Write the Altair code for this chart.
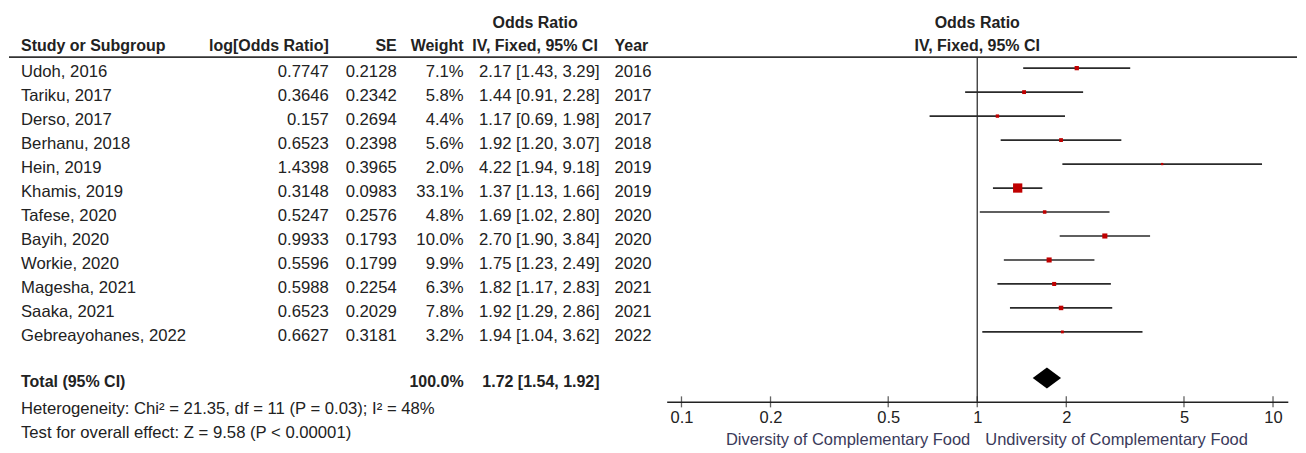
import altair as alt
import pandas as pd

# ---------------- data ----------------
studies = ["Udoh, 2016", "Tariku, 2017", "Derso, 2017", "Berhanu, 2018", "Hein, 2019",
           "Khamis, 2019", "Tafese, 2020", "Bayih, 2020", "Workie, 2020", "Magesha, 2021",
           "Saaka, 2021", "Gebreayohanes, 2022"]
log_or_txt = ["0.7747", "0.3646", "0.157", "0.6523", "1.4398", "0.3148", "0.5247",
              "0.9933", "0.5596", "0.5988", "0.6523", "0.6627"]
se_txt = ["0.2128", "0.2342", "0.2694", "0.2398", "0.3965", "0.0983", "0.2576",
          "0.1793", "0.1799", "0.2254", "0.2029", "0.3181"]
weights = [7.1, 5.8, 4.4, 5.6, 2.0, 33.1, 4.8, 10.0, 9.9, 6.3, 7.8, 3.2]
or_est = [2.17, 1.44, 1.17, 1.92, 4.22, 1.37, 1.69, 2.70, 1.75, 1.82, 1.92, 1.94]
ci_lo = [1.43, 0.91, 0.69, 1.20, 1.94, 1.13, 1.02, 1.90, 1.23, 1.17, 1.29, 1.04]
ci_hi = [3.29, 2.28, 1.98, 3.07, 9.18, 1.66, 2.80, 3.84, 2.49, 2.83, 2.86, 3.62]
years = ["2016", "2017", "2017", "2018", "2019", "2019", "2020", "2020", "2020",
         "2021", "2021", "2022"]

total_label = "Total (95% CI)"
total_weight = "100.0%"
total_or, total_lo, total_hi = 1.72, 1.54, 1.92
heterogeneity = "Heterogeneity: Chi\u00b2 = 21.35, df = 11 (P = 0.03); I\u00b2 = 48%"
overall = "Test for overall effect: Z = 9.58 (P < 0.00001)"

headers = ["Study or Subgroup", "log[Odds Ratio]", "SE", "Weight", "Odds Ratio",
           "IV, Fixed, 95% CI", "Year"]
plot_header = ["Odds Ratio", "IV, Fixed, 95% CI"]
tick_values = [0.1, 0.2, 0.5, 1, 2, 5, 10]
left_label = "Diversity of Complementary Food"
right_label = "Undiversity of Complementary Food"

# ---------------- layout ----------------
W, H = 1290, 394
ROW_TOP, ROW_AXIS = -2.5, 13.9167
H1_ROW, H2_ROW = -2.04, -1.1
LINE_ROW = -0.458
TOTAL_ROW = 12.92
FOOT_ROWS = [14.04, 15.04]
BOTTOM_LABEL_ROW = 15.33
DIAMOND_HALF = 0.44
COL_X = [13, 321, 389, 456, 527.5, 592, 607]
FONT = "Liberation Sans, Arial, sans-serif"
FS, FSB = 16.7, 16
TXT = "#222222"

yenc = alt.Y("row:Q", scale=alt.Scale(domain=[ROW_TOP, ROW_AXIS], reverse=True,
                                       nice=False, zero=False), axis=None)
xaxis = alt.Axis(values=tick_values, orient="bottom", title=None, grid=False,
                 ticks=False, domainColor="#222222", domainWidth=1.5,
                 labelFont=FONT, labelFontSize=16.5, labelColor=TXT,
                 labelPadding=8, format="~g")
xscale = alt.Scale(type="log", domain=[10 ** -1.05, 10 ** 1.05],
                   range=[659.2, 1280.8], nice=False)


def fx(field):
    return alt.X(field, scale=xscale, axis=xaxis)


# ---------------- forest part ----------------
studies_df = pd.DataFrame({"row": list(range(len(studies))), "est": or_est,
                           "lo": ci_lo, "hi": ci_hi, "w": weights})

vline = alt.Chart(pd.DataFrame({"x": [1.0], "row": [LINE_ROW], "row2": [ROW_AXIS]})).mark_rule(
    color="#333333", strokeWidth=1.3).encode(x=fx("x:Q"), y=yenc, y2="row2:Q")

ci_rules = alt.Chart(studies_df).mark_rule(color="#2a2a2a", strokeWidth=1.7).encode(
    x=fx("lo:Q"), x2="hi:Q", y=yenc)

squares = alt.Chart(studies_df).mark_square(color="#c00000", opacity=1, filled=True).encode(
    x=fx("est:Q"), y=yenc,
    size=alt.Size("w:Q", scale=alt.Scale(domain=[0, 33.1], range=[0, 86]), legend=None))

diamond_df = pd.DataFrame({
    "x": [total_lo, total_or, total_hi],
    "row": [TOTAL_ROW, TOTAL_ROW - DIAMOND_HALF, TOTAL_ROW],
    "row2": [TOTAL_ROW, TOTAL_ROW + DIAMOND_HALF, TOTAL_ROW]})
diamond = alt.Chart(diamond_df).mark_area(color="black", opacity=1).encode(
    x=fx("x:Q"), y=yenc, y2="row2:Q")

ticks = alt.Chart(pd.DataFrame({"x": tick_values, "row": [ROW_AXIS] * len(tick_values)})).mark_tick(
    orient="vertical", size=11, thickness=1.3, color="#222222").encode(x=fx("x:Q"), y=yenc)

ph_df = pd.DataFrame({"x": [1.0, 1.0], "row": [H1_ROW, H2_ROW], "text": plot_header})
plot_head = alt.Chart(ph_df).mark_text(font=FONT, fontSize=FSB, fontWeight="bold", color=TXT,
                                       align="center", baseline="alphabetic", dy=9).encode(
    x=fx("x:Q"), y=yenc, text="text:N")

bl_df = pd.DataFrame({"x": [1.0], "row": [BOTTOM_LABEL_ROW], "text": [left_label]})
br_df = pd.DataFrame({"x": [1.0], "row": [BOTTOM_LABEL_ROW], "text": [right_label]})
bottom_left = alt.Chart(bl_df).mark_text(font=FONT, fontSize=16.5, color="#3a3a5a", align="right",
                                         baseline="alphabetic", dy=9, dx=-7).encode(
    x=fx("x:Q"), y=yenc, text="text:N")
bottom_right = alt.Chart(br_df).mark_text(font=FONT, fontSize=16.5, color="#3a3a5a", align="left",
                                          baseline="alphabetic", dy=9, dx=8).encode(
    x=fx("x:Q"), y=yenc, text="text:N")

forest = alt.layer(vline, ci_rules, squares, diamond, ticks, plot_head, bottom_left, bottom_right)

# ---------------- table part ----------------
cells = []
for i in range(len(studies)):
    cells += [
        dict(row=i, col=0, text=studies[i], align="left", bold=False),
        dict(row=i, col=1, text=log_or_txt[i], align="right", bold=False),
        dict(row=i, col=2, text=se_txt[i], align="right", bold=False),
        dict(row=i, col=3, text=f"{weights[i]:.1f}%", align="right", bold=False),
        dict(row=i, col=5, text=f"{or_est[i]:.2f} [{ci_lo[i]:.2f}, {ci_hi[i]:.2f}]",
             align="right", bold=False),
        dict(row=i, col=6, text=years[i], align="left", bold=False),
    ]
cells += [
    dict(row=TOTAL_ROW, col=0, text=total_label, align="left", bold=True),
    dict(row=TOTAL_ROW, col=3, text=total_weight, align="right", bold=True),
    dict(row=TOTAL_ROW, col=5, text=f"{total_or:.2f} [{total_lo:.2f}, {total_hi:.2f}]",
         align="right", bold=True),
    dict(row=H2_ROW, col=0, text=headers[0], align="left", bold=True),
    dict(row=H2_ROW, col=1, text=headers[1], align="right", bold=True),
    dict(row=H2_ROW, col=2, text=headers[2], align="right", bold=True),
    dict(row=H2_ROW, col=3, text=headers[3], align="right", bold=True),
    dict(row=H1_ROW, col=4, text=headers[4], align="center", bold=True),
    dict(row=H2_ROW, col=4, text=headers[5], align="center", bold=True),
    dict(row=H2_ROW, col=6, text=headers[6], align="left", bold=True),
    dict(row=FOOT_ROWS[0], col=0, text=heterogeneity, align="left", bold=False),
    dict(row=FOOT_ROWS[1], col=0, text=overall, align="left", bold=False),
]
cells_df = pd.DataFrame(cells)

tx = alt.X("col:Q", scale=alt.Scale(domain=list(range(len(COL_X))), range=COL_X,
                                     nice=False, zero=False), axis=None)
text_layers = []
for al in ["left", "right", "center"]:
    for b in [False, True]:
        sub = cells_df[(cells_df["align"] == al) & (cells_df["bold"] == b)]
        if len(sub) == 0:
            continue
        text_layers.append(
            alt.Chart(sub[["row", "col", "text"]]).mark_text(
                font=FONT, fontSize=FSB if b else FS, fontWeight="bold" if b else "normal",
                color=TXT, align=al, baseline="alphabetic", dy=9).encode(
                x=tx, y=yenc, text="text:N"))

hline = alt.Chart(pd.DataFrame({"row": [LINE_ROW]})).mark_rule(
    color="#333333", strokeWidth=1.6).encode(x=alt.value(1), x2=alt.value(W), y=yenc)

table = alt.layer(hline, *text_layers)

chart = alt.layer(forest, table).resolve_scale(x="independent").properties(
    width=W, height=H, padding=0).configure_view(strokeWidth=0)

chart.save("out.html", embed_options={"renderer": "svg", "actions": False})
